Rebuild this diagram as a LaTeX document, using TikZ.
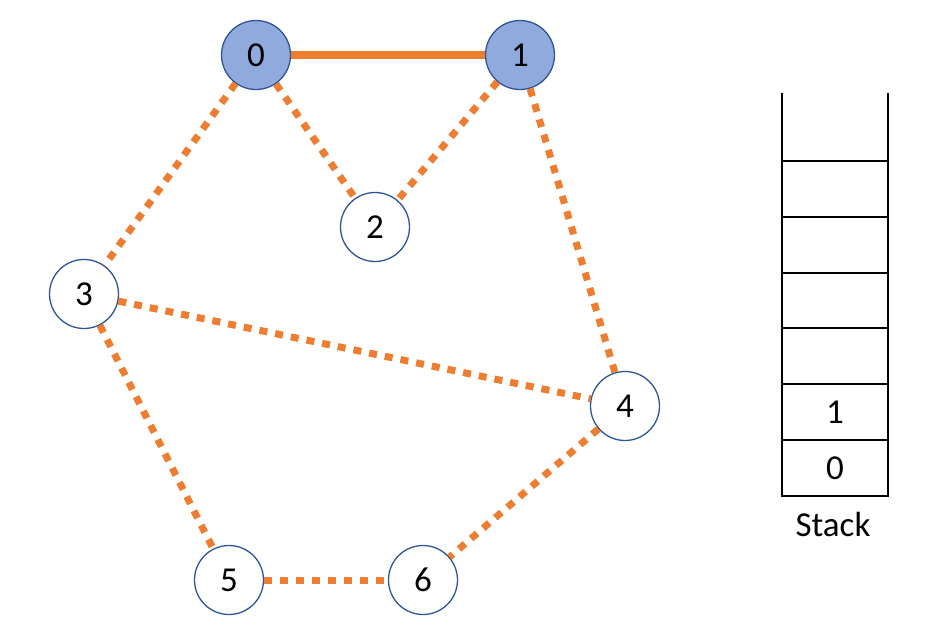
\documentclass[tikz,border=0pt]{standalone}
\usepackage{fontspec}
\setmainfont{Carlito}
\usepackage{tikz}
\definecolor{edgeOrange}{RGB}{237, 125, 49}
\definecolor{nodeBlue}{RGB}{143, 170, 220}
\definecolor{lineBlue}{RGB}{47, 85, 151}

\begin{document}
\begin{tikzpicture}[x=1pt,y=-1pt,
    vtx/.style={circle, draw=lineBlue, line width=1.3pt, fill=white, minimum size=69pt, inner sep=0pt, font=\fontsize{35}{40}\selectfont},
    visited/.style={vtx, fill=nodeBlue},
    treeedge/.style={edgeOrange, line width=8pt},
    openedge/.style={edgeOrange, line width=7pt, dash pattern=on 8pt off 8pt},
    stacklbl/.style={font=\fontsize{35}{40}\selectfont}]
        \useasboundingbox (0,0) rectangle (945,643);
        % vertices
        \node[visited] (n0) at (256,55) {0};
        \node[visited] (n1) at (520,55) {1};
        \node[vtx] (n2) at (375,227) {2};
        \node[vtx] (n3) at (84,294) {3};
        \node[vtx] (n4) at (625,406) {4};
        \node[vtx] (n5) at (229,580) {5};
        \node[vtx] (n6) at (423,580) {6};
        % edges
        \draw[treeedge] (n0) -- (n1);
        \foreach \a/\b in {n0/n2, n0/n3, n1/n2, n1/n4, n3/n4, n3/n5, n4/n6, n5/n6}
          \draw[openedge] (\a) -- (\b);
        % stack
        \draw[line width=1.3pt] (782,93) -- (782,496) -- (888,496) -- (888,93);
        \foreach \y in {161,217,273,328,384,440}
          \draw[line width=1.3pt] (782,\y) -- (888,\y);
        \node[stacklbl] (s1) at (835,412) {1};
        \node[stacklbl] (s0) at (835,468) {0};
        \node[stacklbl] (lbl) at (833,524) {Stack};
      \end{tikzpicture}
\end{document}
